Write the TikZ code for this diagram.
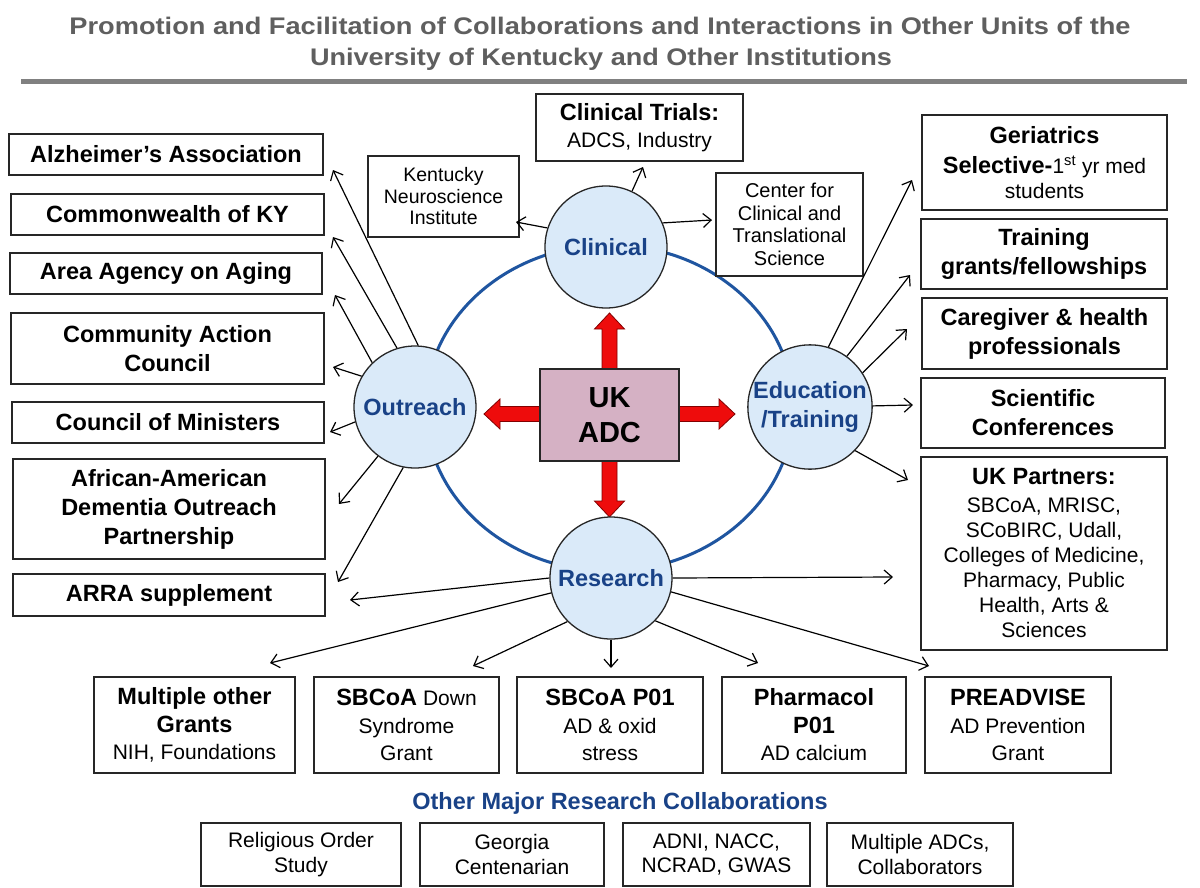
\documentclass[tikz,border=0pt]{standalone}
\usepackage{fontspec}
\usepackage{graphicx}
\setmainfont{Liberation Sans}
\usetikzlibrary{arrows.meta}
\definecolor{circblue}{RGB}{218,234,249}
\definecolor{lblblue}{RGB}{25,66,135}
\definecolor{ringblue}{RGB}{31,85,160}
\definecolor{adcfill}{RGB}{213,177,196}
\definecolor{titlegray}{RGB}{95,95,95}
\definecolor{rulegray}{RGB}{128,128,128}
\definecolor{arrred}{RGB}{238,12,12}
\definecolor{arrdark}{RGB}{130,0,0}
\newcommand\bigb{\fontsize{23.5}{29}\selectfont\bfseries}
\newcommand\medr{\fontsize{21}{25}\selectfont\mdseries}
\newcommand\redarr[2]{\begin{scope}[shift={#1},rotate=#2]
  \draw[redarrow] (0,-7.5)--(40,-7.5)--(40,-15)--(56,0)--(40,15)--(40,7.5)--(0,7.5)--cycle;
\end{scope}}
\begin{document}
\begin{tikzpicture}[x=1pt,y=-1pt,
  box/.style={draw=black!85, line width=1.5pt, fill=white, align=center, inner sep=0pt, text=black},
  circ/.style={circle, draw=black!85, line width=1.3pt, fill=circblue, minimum size=122pt, inner sep=0pt, align=center, text=lblblue, font=\bigb},
  conn/.style={line width=1.2pt, -{Straight Barb[length=8pt,width=14pt,line width=1.2pt]}},
  redarrow/.style={fill=arrred, draw=arrdark, line width=0.8pt},
  ttl/.style={text=titlegray, font=\fontsize{24}{24}\selectfont\bfseries, inner sep=0pt}]
\useasboundingbox[fill=white] (0,0) rectangle (1200,887);

% title
\node[ttl] (t1) at (600,26) {\resizebox{1061pt}{\height}{Promotion and Facilitation of Collaborations and Interactions in Other Units of the}};
\node[ttl] (t2) at (601,59) {\resizebox{582pt}{\height}{University of Kentucky and Other Institutions}};
\draw[rulegray, line width=5pt] (21,81.5) -- (1187,81.5);

% ring
\draw[ringblue, line width=3pt] (609.5,408) ellipse [x radius=184, y radius=163];

% center box with red arrows
\redarr{(609.5,369)}{90}
\redarr{(609.5,461)}{270}
\redarr{(540,414)}{180}
\redarr{(679,414)}{0}
\node[draw=black!85, line width=1.5pt, fill=adcfill, minimum width=139pt, minimum height=92pt, align=center, inner sep=0pt, font=\fontsize{29}{35}\selectfont\bfseries] (adc) at (609.5,415) {UK\\ADC};

% circles
\node[circ] (cli) at (606,247) {Clinical};
\node[circ] (out) at (415,407) {Outreach};
\node[circ] (edu) at (810,407) {Education\\/Training};
\node[circ] (res) at (611,578) {Research};

% left boxes
\node[box, font=\bigb, minimum width=314pt, minimum height=41pt] (alz) at (166,154.5) {Alzheimer’s Association};
\node[box, font=\bigb, minimum width=313pt, minimum height=41pt] (cwky) at (167.5,214.5) {Commonwealth of KY};
\node[box, font=\bigb, minimum width=312pt, minimum height=41pt] (aaa) at (166,273.5) {Area Agency on Aging};
\node[box, font=\bigb, minimum width=313pt, minimum height=71pt] (cac) at (167.5,348.5) {Community Action\\Council};
\node[box, font=\bigb, minimum width=312pt, minimum height=41pt] (com) at (168,422.5) {Council of Ministers};
\node[box, font=\bigb, minimum width=312pt, minimum height=100pt] (aad) at (169,509) {African-American\\Dementia Outreach\\Partnership};
\node[box, font=\bigb, minimum width=312pt, minimum height=42pt] (arra) at (169,595) {ARRA supplement};

% top boxes
\node[box, font=\fontsize{21}{27}\selectfont, minimum width=207pt, minimum height=67pt] (tri) at (639.5,127.5) {{\bigb Clinical Trials:}\\ADCS, Industry};
\node[box, font=\fontsize{19.5}{21.5}\selectfont, minimum width=151pt, minimum height=81pt] (kni) at (443.5,196.5) {Kentucky\\Neuroscience\\Institute};
\node[box, font=\fontsize{20}{22.5}\selectfont, minimum width=147pt, minimum height=103pt] (ctr) at (789.5,224.5) {Center for\\Clinical and\\Translational\\Science};

% right boxes
\node[box, font=\bigb, minimum width=245pt, minimum height=95pt] (ger) at (1044.5,162.5) {Geriatrics\\[1pt]Selective-{\medr 1\textsuperscript{st} yr med}\\[-4pt]{\medr students}};
\node[box, font=\bigb, minimum width=246pt, minimum height=70pt] (trn) at (1044,254) {Training\\grants/fellowships};
\node[box, font=\bigb, minimum width=245pt, minimum height=71pt] (car) at (1044.5,333.5) {Caregiver \& health\\professionals};
\node[box, font=\bigb, minimum width=244pt, minimum height=70pt] (sci) at (1043,413) {Scientific\\Conferences};
\node[box, font=\medr, minimum width=246pt, minimum height=193pt] (ukp) at (1044,553.5) {{\bigb UK Partners:}\\[3pt]SBCoA, MRISC,\\SCoBIRC, Udall,\\Colleges of Medicine,\\Pharmacy, Public\\Health, Arts \&\\Sciences};

% grant boxes
\tikzset{gbox/.style={box, font=\fontsize{21}{27.5}\selectfont, minimum height=96pt}}
\node[gbox, minimum width=201pt] (mul) at (194.5,725) {{\bigb Multiple other}\\{\bigb Grants}\\NIH, Foundations};
\node[gbox, minimum width=185pt] (sbd) at (406.5,725) {{\bigb SBCoA} Down\\Syndrome\\Grant};
\node[gbox, minimum width=186pt] (sbp) at (610,725) {{\bigb SBCoA P01}\\AD \& oxid\\stress};
\node[gbox, minimum width=184pt] (pha) at (814,725) {{\bigb Pharmacol}\\{\bigb P01}\\AD calcium};
\node[gbox, minimum width=186pt] (pre) at (1018,725) {{\bigb PREADVISE}\\AD Prevention\\Grant};

% other collaborations
\node[text=lblblue, font=\bigb, inner sep=0pt] (omrc) at (620,803) {Other Major Research Collaborations};
\tikzset{obox/.style={box, font=\fontsize{21}{24.5}\selectfont, minimum height=63pt}}
\node[obox, minimum width=200pt] (ros) at (301,854.5) {Religious Order\\Study};
\node[obox, minimum width=184pt] (geo) at (512,854.5) {Georgia\\Centenarian};
\node[obox, minimum width=187pt] (adni) at (716.5,854.5) {ADNI, NACC,\\NCRAD, GWAS};
\node[obox, minimum width=186pt] (madc) at (920,854.5) {Multiple ADCs,\\Collaborators};

% connector free ends
\coordinate (tAlz) at (333,170);
\coordinate (tCw) at (333,237);
\coordinate (tAaa) at (335,295);
\coordinate (tCac) at (333,367);
\coordinate (tCom) at (330,432);
\coordinate (tAad) at (339,504);
\coordinate (tArraA) at (338,582);
\coordinate (tTri) at (643,167);
\coordinate (tKni) at (516,222);
\coordinate (tCtr) at (712,220);
\coordinate (tGer) at (912,180);
\coordinate (tTrn) at (910,275);
\coordinate (tCar) at (907,329);
\coordinate (tSci) at (913,405);
\coordinate (tUkpA) at (908,480);
\coordinate (tUkpB) at (893,577);
\coordinate (tPre) at (929,666);
\coordinate (tPha) at (758,663);
\coordinate (tP01) at (611,668);
\coordinate (tDown) at (473,666);
\coordinate (tMul) at (270,663);
\coordinate (tArraB) at (350,600);

% connectors
\draw[conn] (out.87) -- (tAlz);
\draw[conn] (out.107) -- (tCw);
\draw[conn] (out.134) -- (tAaa);
\draw[conn] (out.150) -- (tCac);
\draw[conn] (out.194) -- (tCom);
\draw[conn] (out.233) -- (tAad);
\draw[conn] (out.259) -- (tArraA);
\draw[conn] (cli.65) -- (tTri);
\draw[conn] (cli.162) -- (tKni);
\draw[conn] (cli.23) -- (tCtr);
\draw[conn] (edu.73) -- (tGer);
\draw[conn] (edu.54) -- (tTrn);
\draw[conn] (edu.33) -- (tCar);
\draw[conn] (edu.1) -- (tSci);
\draw[conn] (edu.-44) -- (tUkpA);
\draw[conn] (res.0) -- (tUkpB);
\draw[conn] (res.-13) -- (tPre);
\draw[conn] (res.-44) -- (tPha);
\draw[conn] (res.-90) -- (tP01);
\draw[conn] (res.-135) -- (tDown);
\draw[conn] (res.194) -- (tMul);
\draw[conn] (res.180) -- (tArraB);
\end{tikzpicture}
\end{document}
